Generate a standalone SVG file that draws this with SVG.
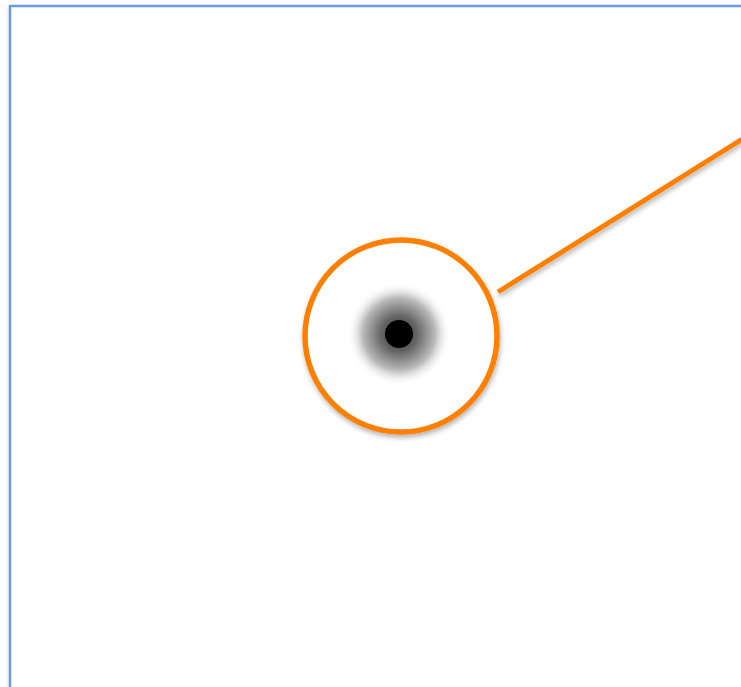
<svg xmlns="http://www.w3.org/2000/svg" width="741" height="687" viewBox="0 0 741 687">
<style>
.frame{fill:#ffffff;stroke:#6a9bdc;stroke-width:2.5}
.ring{fill:#ffffff;stroke:#ff8000;stroke-width:5.5}
.conn{stroke:#ff8000;stroke-width:5;fill:none}
</style>
<defs>
<filter id="sh" x="-20%" y="-20%" width="140%" height="140%">
<feDropShadow dx="1" dy="3" stdDeviation="2.5" flood-color="#000" flood-opacity="0.3"/>
</filter>
<radialGradient id="blur" cx="0.5" cy="0.5" r="0.5">
<stop offset="0" stop-color="#333333"/>
<stop offset="0.35" stop-color="#666666"/>
<stop offset="0.7" stop-color="#bbbbbb"/>
<stop offset="1" stop-color="#ffffff" stop-opacity="0"/>
</radialGradient>
</defs>
<rect width="741" height="687" fill="#ffffff"/>
<g id="frame">
<rect class="frame" x="10" y="6" width="760" height="720" filter="url(#sh)"/>
</g>
<g id="connectors">
<line class="conn" x1="498" y1="292" x2="760" y2="128" filter="url(#sh)"/>
</g>
<g id="node-circle">
<circle class="ring" cx="401" cy="336" r="96" filter="url(#sh)"/>
<circle cx="399" cy="334" r="52" fill="url(#blur)"/>
<circle cx="399" cy="334" r="14" fill="#000000"/>
</g>
</svg>
